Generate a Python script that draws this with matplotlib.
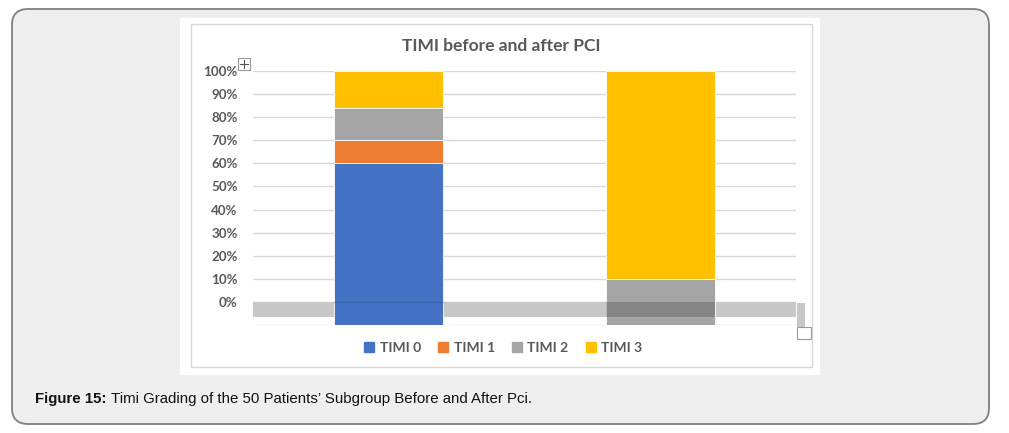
import matplotlib.pyplot as plt
import numpy as np
from matplotlib.patches import Rectangle, FancyBboxPatch
from matplotlib.lines import Line2D

# data (fractions of patients)
groups = ['Before PCI', 'After PCI']
series = ['TIMI 0', 'TIMI 1', 'TIMI 2', 'TIMI 3']
timi0 = [0.60, 0.00]
timi1 = [0.10, 0.00]
timi2 = [0.14, 0.10]
timi3 = [0.16, 0.90]
colors = ['#4472c4', '#ed7d31', '#a5a5a5', '#ffc000']
yticks = np.arange(0, 1.01, 0.1)
title = 'TIMI before and after PCI'
caption_bold = 'Figure 15:'
caption_rest = 'Timi Grading of the 50 Patients\u2019 Subgroup Before and After Pci.'

W, H = 1009, 433
fig = plt.figure(figsize=(W / 100, H / 100), dpi=100)
fig.patch.set_facecolor('white')

# background layer in pixel coordinates
bg = fig.add_axes([0, 0, 1, 1], zorder=0)
bg.set_xlim(0, W)
bg.set_ylim(H, 0)
bg.axis('off')
bg.add_patch(FancyBboxPatch((12, 9), 977, 415, boxstyle='round,pad=0,rounding_size=16',
                            facecolor='#eeefee', edgecolor='#808080', linewidth=1.3))
bg.add_patch(Rectangle((180, 18), 640, 357, facecolor='white', edgecolor='none'))
bg.add_patch(Rectangle((191, 24), 621, 343, facecolor='none', edgecolor='#d9d9d9', linewidth=1))
t1 = bg.text(35, 399, caption_bold, fontsize=10.8, fontweight='bold', family='Liberation Sans',
             va='center', ha='left', color='#111111')
bg.annotate(caption_rest, xy=(1, 0.5), xycoords=t1, xytext=(3, 0), textcoords='offset points',
            fontsize=10.8, family='Liberation Sans', va='center', ha='left', color='#111111')
bg.text(501, 46, title, fontsize=12.5, fontweight='bold', family='Lato', color='#595959',
        ha='center', va='center')

# chart
ymin = -0.1
ax = fig.add_axes([253 / W, 1 - 325 / H, (796 - 253) / W, (325 - 71) / H], zorder=1)
ax.patch.set_alpha(0)
x = np.arange(len(groups))
values = np.array([timi0, timi1, timi2, timi3])
cum = np.zeros(len(groups))
started = np.zeros(len(groups), dtype=bool)
containers = []
for vals, col, name in zip(values, colors, series):
    bottom = np.where(started, cum, ymin)
    height = cum + vals - bottom
    height = np.where(vals > 0, height, 0)
    bc = ax.bar(x, height, bottom=bottom, width=0.4, color=col, label=name, zorder=3,
                edgecolor='white', linewidth=0.6)
    containers.append(bc)
    cum = cum + vals
    started = started | (vals > 0)

ax.set_xlim(-0.5, 1.5)
ax.set_ylim(ymin, 1.0)
ax.set_yticks(yticks)
ax.set_yticklabels([f'{int(round(v * 100))}%' for v in yticks], fontsize=9.6, fontweight='bold',
                   color='#595959', family='Lato')
ax.tick_params(axis='y', length=0, pad=11)
ax.set_xticks([])
for s in ax.spines.values():
    s.set_visible(False)
for v in list(yticks) + [ymin]:
    ax.axhline(v, color='#d9d9d9', linewidth=1, zorder=1)

# selection band artefact below the 0% line
ax.axhspan(-0.066, 0, color='#c8c8c8', zorder=2, linewidth=0)
p0 = containers[0].patches[0]
ax.plot([p0.get_x(), p0.get_x() + p0.get_width()], [0, 0], color='#2a4a80', alpha=0.35,
        linewidth=1, zorder=4)
p = containers[2].patches[1]
ax.add_patch(Rectangle((p.get_x(), -0.066), p.get_width(), 0.066, facecolor='#4a4a4a',
                       alpha=0.35, zorder=4, linewidth=0))

# legend
handles = [Line2D([], [], marker='s', linestyle='none', markersize=7, color=c) for c in colors]
fig.legend(handles, series, loc='center', bbox_to_anchor=(503 / W, 1 - 348 / H), ncol=4,
           frameon=False, handletextpad=0.35, columnspacing=1.2, handlelength=0.8,
           prop={'family': 'Lato', 'weight': 'bold', 'size': 10}, labelcolor='#595959')

# small overlay artefacts (resize handle and move icon)
top = fig.add_axes([0, 0, 1, 1], zorder=2)
top.set_xlim(0, W)
top.set_ylim(H, 0)
top.axis('off')
top.add_patch(Rectangle((797, 303), 8, 24, facecolor='#c8c8c8', edgecolor='none'))
top.add_patch(Rectangle((797, 327), 14, 12, facecolor='white', edgecolor='#9a9a9a', linewidth=0.8))
top.add_patch(Rectangle((238, 58), 12, 12, facecolor='white', edgecolor='#9a9a9a', linewidth=0.8))
top.plot([240, 248], [64, 64], color='#555555', linewidth=0.8)
top.plot([244, 244], [60, 68], color='#555555', linewidth=0.8)

fig.savefig('out.png', dpi=100)
